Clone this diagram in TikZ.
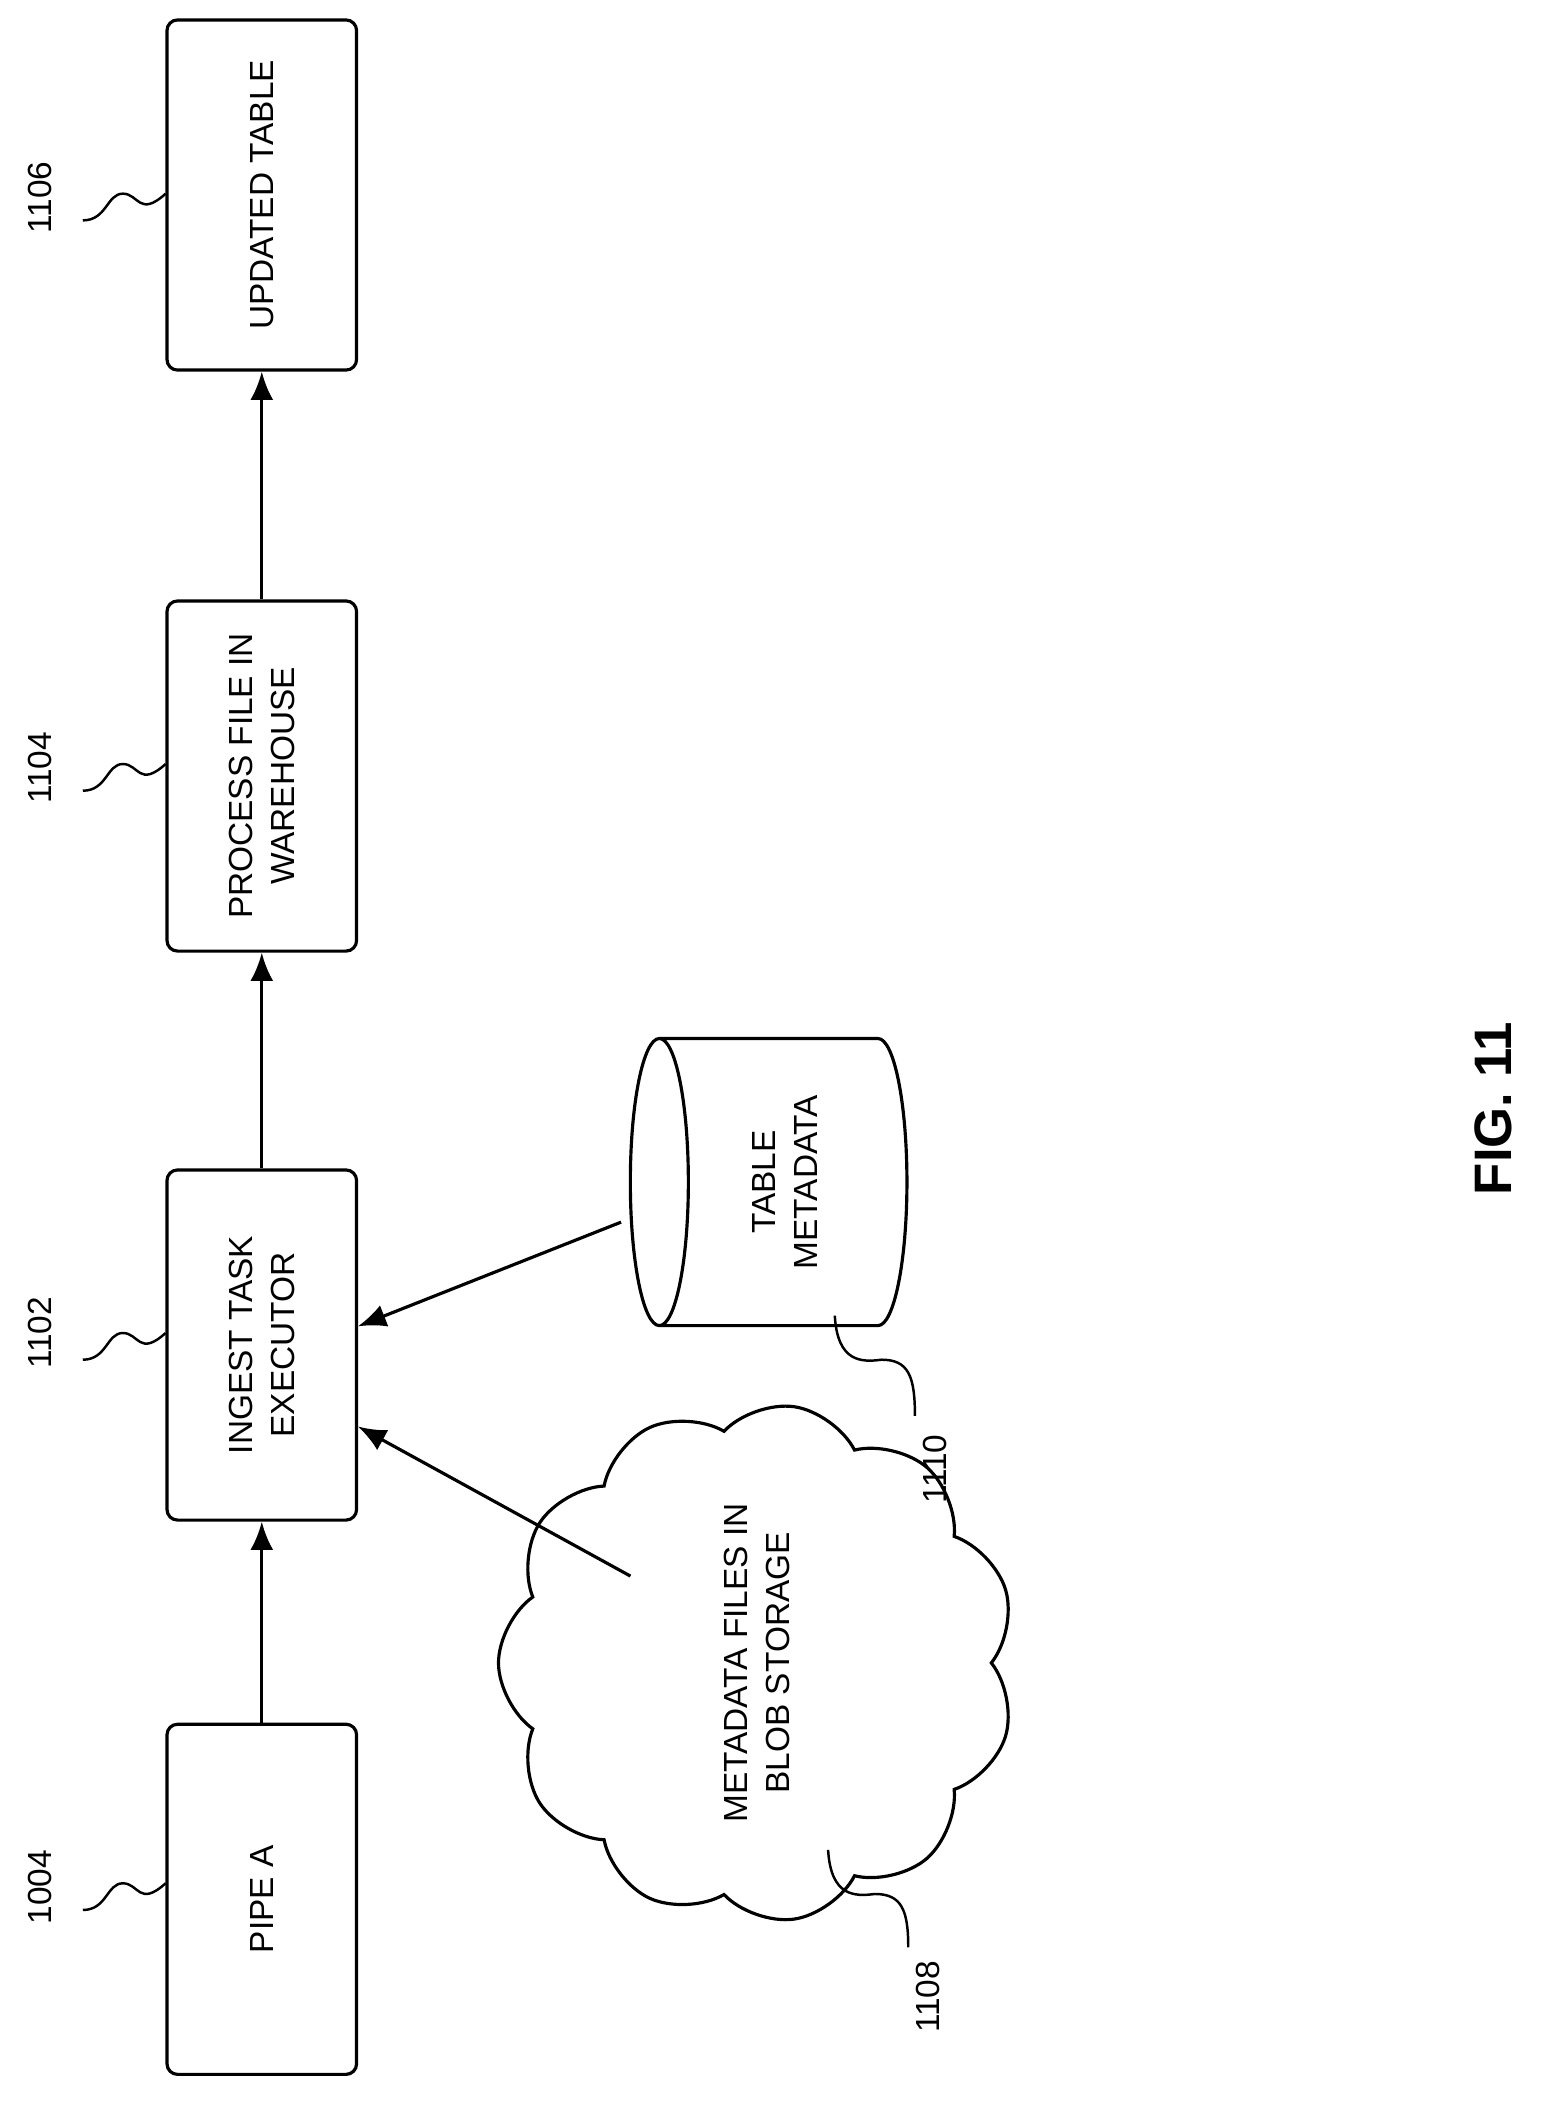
\documentclass[tikz,border=0pt]{standalone}
\usepackage{fontspec}
\setmainfont{Liberation Sans}
\usetikzlibrary{shapes.geometric,shapes.symbols,positioning,arrows.meta}
\tikzset{
  box/.style={rectangle, rounded corners=6pt, draw=black, line width=1.8pt, rotate=90, minimum width=7cm, minimum height=3.79cm, align=center, font=\fontsize{19}{24}\selectfont},
  store/.style={cylinder, draw=black, line width=1.8pt, shape border rotate=180, aspect=0.28, minimum width=5.74cm, minimum height=5.53cm, align=center, font=\fontsize{19}{24}\selectfont},
  blob/.style={cloud, draw=black, line width=1.8pt, cloud puffs=11, cloud puff arc=110, rotate=90, minimum width=6.4cm, minimum height=4.1cm, align=center, font=\fontsize{19}{24}\selectfont},
  ref/.style={rotate=90, font=\fontsize{19}{24}\selectfont},
  arrow/.style={line width=1.8pt, -{Latex[length=16pt,width=13pt]}},
  wig/.style={line width=1.4pt}
}
\begin{document}
\begin{tikzpicture}[x=0.0267cm, y=-0.0267cm]
\useasboundingbox (0,0) rectangle (1160,1582);
% boxes
\node (pipe) [box] at (196,1422) {PIPE A};
\node (ingest) [box] at (196,1007) {INGEST TASK\\EXECUTOR};
\node (process) [box] at (196,581) {PROCESS FILE IN\\WAREHOUSE};
\node (table) [box] at (196,146) {UPDATED TABLE};
\node (meta) [store] at (590,885) {\rotatebox{90}{\begin{tabular}{c}TABLE\\METADATA\end{tabular}}};
\node (blob) [blob] at (567,1245) {METADATA FILES IN\\BLOB STORAGE};
% connectors
\draw [arrow] (pipe) -- (ingest);
\draw [arrow] (ingest) -- (process);
\draw [arrow] (process) -- (table);
\draw [arrow] (472,1180) coordinate (bl) -- (268,1068);
\draw [arrow] (465,915) coordinate (cy) -- (268,993);
% reference numerals
\node (n1004) [ref] at (30,1413) {1004};
\node (n1102) [ref] at (30,998) {1102};
\node (n1104) [ref] at (30,575) {1104};
\node (n1106) [ref] at (30,148) {1106};
\node (n1108) [ref] at (695,1495) {1108};
\node (n1110) [ref] at (700,1100) {1110};
\node (fig) [rotate=90, font=\bfseries\fontsize{30}{36}\selectfont] at (1118,830) {FIG. 11};
\foreach \y in {1430,1018,592,165}
  \draw [wig] (62,\y) .. controls (80,\y) and (80,\y-20) .. (92,\y-20) .. controls (104,\y-20) and (104,\y-2) .. (124,\y-20);
\draw [wig] (620,1385) .. controls (622,1420) and (640,1420) .. (655,1418) .. controls (675,1418) and (680,1430) .. (680,1458);
\draw [wig] (625,985) .. controls (627,1020) and (645,1020) .. (660,1018) .. controls (680,1018) and (685,1030) .. (685,1060);
\end{tikzpicture}
\end{document}
